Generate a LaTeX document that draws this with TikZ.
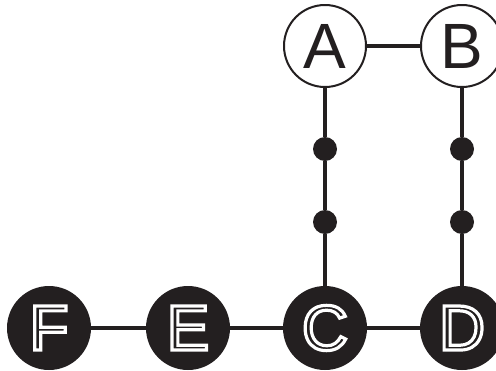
\documentclass[tikz,border=0pt]{standalone}
\usepackage{fontspec}
\setmainfont{Liberation Sans}
\usetikzlibrary{backgrounds}
\definecolor{ink}{RGB}{35,31,32}
\tikzset{
  whitenode/.style={circle, draw=ink, line width=2pt, fill=white, minimum size=82pt, inner sep=0pt, text=ink, font=\fontsize{64}{64}\selectfont},
  blacknode/.style={circle, fill=ink, minimum size=84pt, inner sep=0pt, text=ink, font=\fontsize{64}{64}\selectfont},
  dotnode/.style={circle, fill=ink, minimum size=24pt, inner sep=0pt},
  link/.style={draw=ink, line width=4pt}
}
\newcommand{\outl}[1]{\special{pdf:literal direct q 2 Tr 3.2 w 1 1 1 RG}#1\special{pdf:literal direct Q}}
\begin{document}
\begin{tikzpicture}[x=1pt,y=-1pt]
\useasboundingbox (0,0) rectangle (496,370);
\node[whitenode] (A) at (325,46) {A};
\node[whitenode] (B) at (462,46) {B};
\node[blacknode] (F) at (49,328) {\outl{F}};
\node[blacknode] (E) at (188,328) {\outl{E}};
\node[blacknode] (C) at (325,328) {\outl{C}};
\node[blacknode] (D) at (462,328) {\outl{D}};
\node[dotnode] (a1) at (325,149) {};
\node[dotnode] (a2) at (325,222) {};
\node[dotnode] (b1) at (462,149) {};
\node[dotnode] (b2) at (462,222) {};
\begin{scope}[on background layer]
\draw[link] (A) -- (B);
\draw[link] (A) -- (a1) -- (a2) -- (C);
\draw[link] (B) -- (b1) -- (b2) -- (D);
\draw[link] (F) -- (E);
\draw[link] (E) -- (C);
\draw[link] (C) -- (D);
\end{scope}
\end{tikzpicture}
\end{document}
